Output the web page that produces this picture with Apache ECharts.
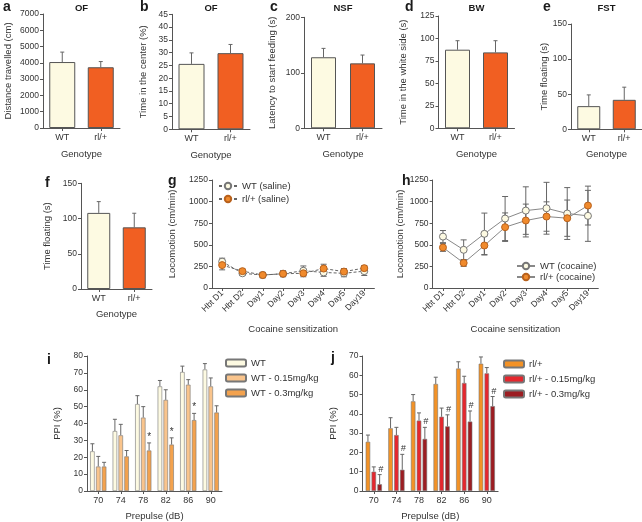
<!DOCTYPE html>
<html><head><meta charset="utf-8">
<script src="https://cdn.jsdelivr.net/npm/echarts@6/dist/echarts.min.js"></script>
<style>html,body{margin:0;padding:0;background:#fff}#c{width:642px;height:522px}</style>
</head><body><div id="c"></div>
<script>
// ---------- data ----------
const genotypes = ['WT', 'rl/+'];
const ofDistance = [4050, 3730];     const ofDistanceErr = [610, 350];
const ofCenter = [25.6, 29.8];       const ofCenterErr = [4.3, 3.4];
const nsfLatency = [128, 117];       const nsfLatencyErr = [16, 15];
const bwTime = [87.5, 84.5];         const bwTimeErr = [10, 13];
const fstTime = [33, 42];            const fstTimeErr = [16, 18];
const fstTime2 = [108, 87.5];        const fstTime2Err = [16, 20];

const days = ['Hbt D1', 'Hbt D2', 'Day1', 'Day2', 'Day3', 'Day4', 'Day5', 'Day19'];
const wtSaline = [305, 170, 150, 165, 200, 180, 170, 195];
const wtSalineErr = [40, 25, 30, 30, 55, 45, 40, 50];
const rlSaline = [265, 195, 150, 165, 170, 225, 190, 230];
const rlSalineErr = [55, 25, 30, 35, 40, 50, 35, 30];
const wtCocaine = [595, 442, 627, 804, 896, 923, 862, 835];
const wtCocaineErr = [70, 115, 240, 255, 275, 300, 300, 295];
const rlCocaine = [469, 290, 492, 704, 781, 827, 808, 954];
const rlCocaineErr = [45, 40, 110, 165, 190, 170, 210, 225];

const prepulse = ['70', '74', '78', '82', '86', '90'];
const wtPPI = [23.5, 35.5, 51.5, 62, 70.5, 72];
const wtPPIErr = [4.5, 7, 5, 3.5, 3.5, 3.5];
const wt015PPI = [14.5, 33, 43.5, 54, 63, 62];
const wt015PPIErr = [6, 6.5, 6.5, 6, 3, 5];
const wt03PPI = [14.5, 20.5, 24, 27.5, 42, 46.5];
const wt03PPIErr = [2.5, 3.5, 4.5, 4, 4, 4];
const wt03Sig = [0, 0, 1, 1, 1, 0];
const rlPPI = [25.5, 32.5, 46.5, 55.5, 63.5, 66];
const rlPPIErr = [3.5, 5.5, 3.5, 3.5, 3.5, 3.5];
const rl015PPI = [10, 29, 36.5, 38.5, 56, 61];
const rl015PPIErr = [2.5, 4, 4, 4.5, 3.5, 3];
const rl03PPI = [3.5, 11, 27, 33.5, 36, 44];
const rl03PPIErr = [5, 8, 6, 6, 5.5, 5];
const rl03Sig = [1, 1, 1, 1, 1, 1];

// ---------- style ----------
const FONT = 'Liberation Sans, Arial, Helvetica, sans-serif';
const AX = '#555', TXT = '#333', ERR = '#666';
const CREAM = '#fdfae2', RED = '#f15f22';

const option = {
  animation: false,
  backgroundColor: '#fff',
  textStyle: { fontFamily: FONT, color: TXT },
  title: [], grid: [], xAxis: [], yAxis: [], series: [], legend: []
};

function yAx(gi, max, interval, name, gap) {
  return {
    type: 'value', gridIndex: gi, min: 0, max: max, interval: interval,
    name: name, nameLocation: 'middle', nameGap: gap,
    nameTextStyle: { fontSize: 9.5, color: TXT, fontFamily: FONT },
    axisLine: { show: true, lineStyle: { color: AX, width: 1 } },
    axisTick: { show: true, length: 3, lineStyle: { color: AX } },
    axisLabel: { fontSize: 8.5, color: TXT, margin: 4, fontFamily: FONT, formatter: v => String(v) },
    splitLine: { show: false }
  };
}
function xCat(gi, cats, name, gap, rotate) {
  return {
    type: 'category', gridIndex: gi, data: cats,
    name: name, nameLocation: 'middle', nameGap: gap,
    nameTextStyle: { fontSize: 9.5, color: TXT, fontFamily: FONT },
    axisLine: { show: true, lineStyle: { color: AX, width: 1 } },
    axisTick: { show: true, alignWithLabel: true, length: 3, lineStyle: { color: AX } },
    axisLabel: { fontSize: rotate ? 8.5 : 9, color: TXT, margin: rotate ? 4 : 5, rotate: rotate || 0, interval: 0, fontFamily: FONT }
  };
}
function errRender(offset, both, sym) {
  return function (params, api) {
    const xi = api.value(0), m = api.value(1), e = api.value(2), flag = api.value(3);
    const pTop = api.coord([xi, m + e]);
    const pBot = api.coord([xi, both ? m - e : m]);
    const x = pTop[0] + offset;
    const cw = both ? 3 : 2;
    const st = { stroke: ERR, lineWidth: 1 };
    const ch = [
      { type: 'line', shape: { x1: x, y1: pBot[1], x2: x, y2: pTop[1] }, style: st },
      { type: 'line', shape: { x1: x - cw, y1: pTop[1], x2: x + cw, y2: pTop[1] }, style: st }
    ];
    if (both) ch.push({ type: 'line', shape: { x1: x - cw, y1: pBot[1], x2: x + cw, y2: pBot[1] }, style: st });
    if (flag && sym) ch.push({ type: 'text', style: { text: sym, x: x + (sym === '#' ? 1 : 0), y: pTop[1] - 1, align: 'center', verticalAlign: 'bottom', font: (sym === '#' ? 'italic 9px ' : '10px ') + FONT, fill: TXT } });
    return { type: 'group', children: ch };
  };
}
function errData(vals, errs, sig) {
  return vals.map((v, i) => [i, v, errs[i], sig ? sig[i] : 0]);
}

function addTitle(text, x, y, size, bold, align) {
  option.title.push({
    text: text, left: x, top: y, textAlign: align || 'left', padding: 0,
    textStyle: { fontSize: size, fontWeight: bold ? 'bold' : 'normal', color: '#1a1a1a', fontFamily: FONT }
  });
}

// ---------- a-f simple bar panels ----------
const barPanels = [
  { g: { left: 43, top: 14, width: 77, height: 114 }, max: 7000, step: 1000, yName: 'Distance travelled (cm)', gap: 30, vals: ofDistance, errs: ofDistanceErr, bw: 26, title: 'OF', letter: 'a', lx: 3, ly: 0, ng: 21 },
  { g: { left: 172, top: 14.3, width: 78, height: 115 }, max: 45, step: 5, yName: 'Time in the center (%)', gap: 24, vals: ofCenter, errs: ofCenterErr, bw: 26, title: 'OF', letter: 'b', lx: 140, ly: 0, ng: 21 },
  { g: { left: 304, top: 17.3, width: 78, height: 111 }, max: 200, step: 100, yName: 'Latency to start feeding (s)', gap: 27, vals: nsfLatency, errs: nsfLatencyErr, bw: 25, title: 'NSF', letter: 'c', lx: 270, ly: 0, ng: 21 },
  { g: { left: 438.5, top: 16, width: 76, height: 112.3 }, max: 125, step: 25, yName: 'Time in the white side (s)', gap: 30, vals: bwTime, errs: bwTimeErr, bw: 25, title: 'BW', letter: 'd', lx: 405, ly: 0, ng: 21 },
  { g: { left: 571, top: 24, width: 71, height: 105.3 }, max: 150, step: 50, yName: 'Time floating (s)', gap: 19, vals: fstTime, errs: fstTimeErr, bw: 23, title: 'FST', letter: 'e', lx: 543, ly: 0, ng: 20 },
  { g: { left: 81, top: 183.3, width: 71, height: 105.7 }, max: 150, step: 50, yName: 'Time floating (s)', gap: 29, vals: fstTime2, errs: fstTime2Err, bw: 23, title: null, letter: 'f', lx: 45, ly: 176, ng: 20 }
];
barPanels.forEach((p, k) => {
  const gi = option.grid.length;
  option.grid.push(Object.assign({ containLabel: false }, p.g));
  option.xAxis.push(xCat(gi, genotypes, 'Genotype', p.ng));
  option.yAxis.push(yAx(gi, p.max, p.step, p.yName, p.gap));
  option.series.push({
    type: 'bar', name: 'panel' + p.letter, xAxisIndex: gi, yAxisIndex: gi, barWidth: p.bw,
    data: p.vals.map((v, i) => ({ value: v, itemStyle: { color: i === 0 ? CREAM : RED } })),
    itemStyle: { borderColor: AX, borderWidth: 1 }, z: 2
  });
  option.series.push({
    type: 'custom', name: 'err' + p.letter, xAxisIndex: gi, yAxisIndex: gi,
    renderItem: errRender(0, false), data: errData(p.vals, p.errs), encode: { x: 0, y: 1 }, z: 1
  });
  if (p.title) addTitle(p.title, p.g.left + p.g.width / 2, 3, 9.5, true, 'center');
  addTitle(p.letter, p.lx, p.ly, 14, true);
});

// ---------- g, h line panels ----------
function linePanel(gridDef, letter, lx, ly, yGap, s1, s1v, s1e, s2, s2v, s2e, dashed, lineColor, legendPos) {
  const gi = option.grid.length;
  option.grid.push(gridDef);
  option.xAxis.push(xCat(gi, days, 'Cocaine sensitization', 36, 45));
  option.yAxis.push(yAx(gi, 1250, 250, 'Locomotion (cm/min)', yGap));
  const ls = { color: lineColor, width: 1, type: dashed ? [3, 2] : 'solid' };
  option.series.push({ type: 'custom', name: 'e1' + letter, xAxisIndex: gi, yAxisIndex: gi, renderItem: errRender(0, true), data: errData(s1v, s1e), encode: { x: 0, y: 1 }, z: 1 });
  option.series.push({ type: 'custom', name: 'e2' + letter, xAxisIndex: gi, yAxisIndex: gi, renderItem: errRender(0, true), data: errData(s2v, s2e), encode: { x: 0, y: 1 }, z: 1 });
  option.series.push({
    type: 'line', name: s1, xAxisIndex: gi, yAxisIndex: gi, data: s1v, symbol: 'circle', symbolSize: 7,
    lineStyle: ls, itemStyle: { color: CREAM, borderColor: '#777', borderWidth: 1 }, z: 3
  });
  option.series.push({
    type: 'line', name: s2, xAxisIndex: gi, yAxisIndex: gi, data: s2v, symbol: 'circle', symbolSize: 7,
    lineStyle: ls, itemStyle: { color: '#f08a2c', borderColor: '#b8611c', borderWidth: 1 }, z: 4
  });
  option.legend.push(Object.assign({
    orient: 'vertical', selectedMode: false, padding: 0, itemWidth: 18, itemHeight: 8, itemGap: 3,
    textStyle: { fontSize: 9.5, color: TXT, fontFamily: FONT }, data: [s1, s2]
  }, legendPos));
  addTitle(letter, lx, ly, 14, true);
}
linePanel({ left: 212, top: 180, width: 162.4, height: 108 }, 'g', 168, 174, 35,
  'WT (saline)', wtSaline, wtSalineErr, 'rl/+ (saline)', rlSaline, rlSalineErr, true, '#666', { left: 218, top: 181 });
linePanel({ left: 432.6, top: 180, width: 165.7, height: 108 }, 'h', 402, 174, 24,
  'WT (cocaine)', wtCocaine, wtCocaineErr, 'rl/+ (cocaine)', rlCocaine, rlCocaineErr, false, '#888', { left: 516, top: 261, itemGap: 1 });

// ---------- i, j grouped bar panels ----------
function groupPanel(gridDef, max, letter, lx, ly, yGap, names, colors, vals, errs, sig, sym, legendPos) {
  const gi = option.grid.length;
  option.grid.push(gridDef);
  option.xAxis.push(xCat(gi, prepulse, 'Prepulse (dB)', 20));
  option.yAxis.push(yAx(gi, max, 10, 'PPI (%)', yGap));
  const bw = 4.5, gapPct = 30, step = bw * (1 + gapPct / 100);
  names.forEach((n, k) => {
    option.series.push({
      type: 'bar', name: n, xAxisIndex: gi, yAxisIndex: gi, data: vals[k], barWidth: bw, barGap: gapPct + '%',
      itemStyle: { color: colors[k], borderColor: '#777', borderWidth: 0.6 }, z: 2
    });
  });
  names.forEach((n, k) => {
    option.series.push({
      type: 'custom', name: 'err' + letter + k, xAxisIndex: gi, yAxisIndex: gi,
      renderItem: errRender((k - 1) * step, false, k === 2 ? sym : null),
      data: errData(vals[k], errs[k], k === 2 ? sig : null), encode: { x: 0, y: 1 }, z: 1
    });
  });
  option.legend.push(Object.assign({
    orient: 'vertical', selectedMode: false, padding: 0, itemWidth: 20, itemHeight: 7, itemGap: 5,
    textStyle: { fontSize: 9.5, color: TXT, fontFamily: FONT }, data: names
  }, legendPos));
  addTitle(letter, lx, ly, 14, true);
}
groupPanel({ left: 87, top: 356, width: 135, height: 136 }, 80, 'i', 47, 353, 25,
  ['WT', 'WT - 0.15mg/kg', 'WT - 0.3mg/kg'], [CREAM, '#f9c48c', '#f3a24e'],
  [wtPPI, wt015PPI, wt03PPI], [wtPPIErr, wt015PPIErr, wt03PPIErr], wt03Sig, '*', { left: 225, top: 358 });
groupPanel({ left: 362.5, top: 356, width: 135.6, height: 136 }, 70, 'j', 331, 351, 24,
  ['rl/+', 'rl/+ - 0.15mg/kg', 'rl/+ - 0.3mg/kg'], ['#f39226', '#e5272e', '#9c1d22'],
  [rlPPI, rl015PPI, rl03PPI], [rlPPIErr, rl015PPIErr, rl03PPIErr], rl03Sig, '#', { left: 503, top: 359 });

const chart = echarts.init(document.getElementById('c'), null, { renderer: 'canvas' });
chart.setOption(option);
</script></body></html>
